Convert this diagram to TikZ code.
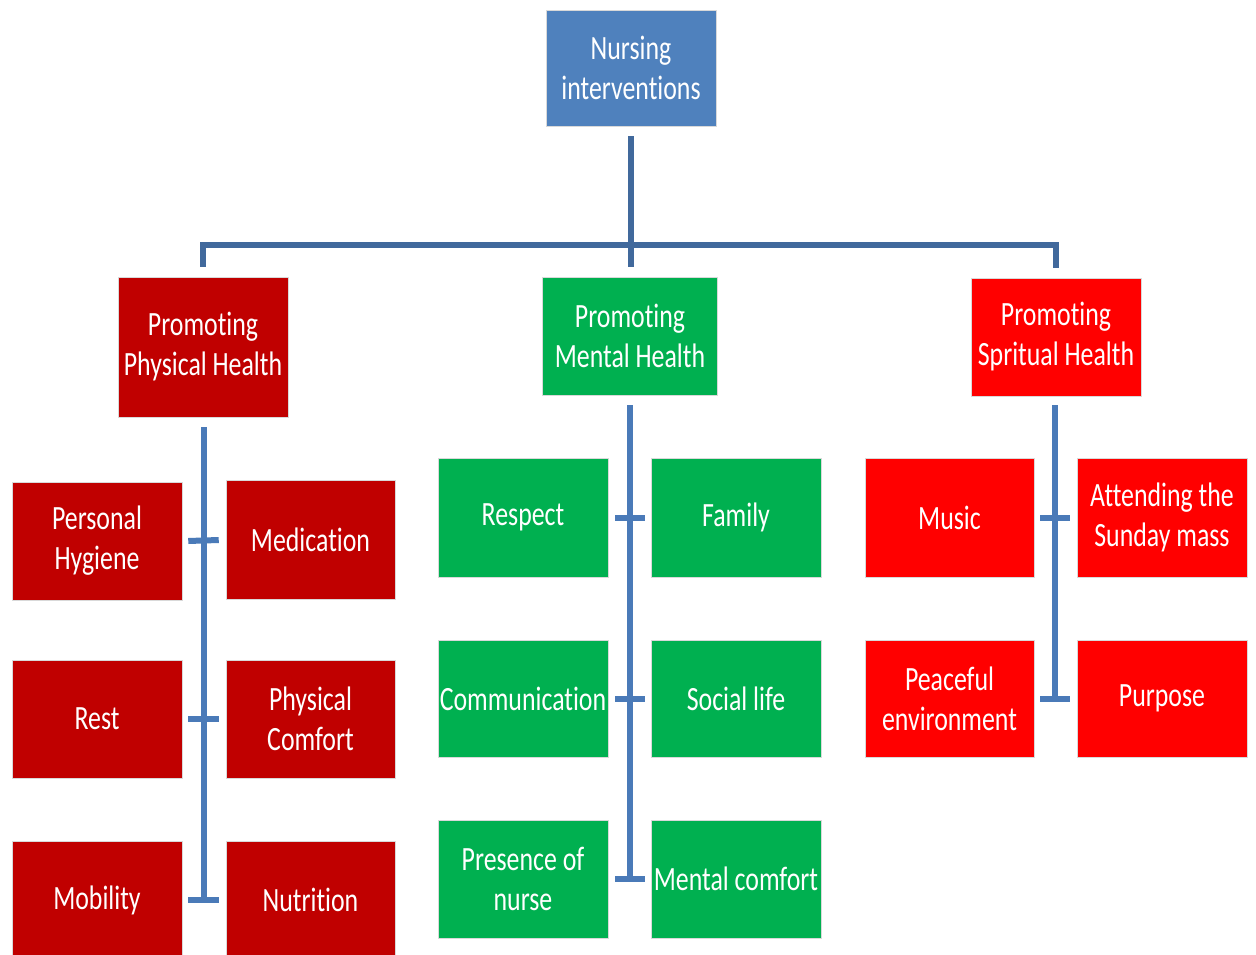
\documentclass[tikz,border=0pt]{standalone}
\usepackage{fontspec}
\setmainfont{Carlito}[FakeStretch=0.76, Ligatures={NoCommon,NoContextual}]
\usetikzlibrary{calc}
\definecolor{rootblue}{HTML}{4F81BD}
\definecolor{darkred}{HTML}{C00000}
\definecolor{brightred}{HTML}{FF0000}
\definecolor{mgreen}{HTML}{00B050}
\definecolor{trunkblue}{HTML}{41699C}
\definecolor{spineblue}{HTML}{4A7AB8}
\begin{document}
\begin{tikzpicture}[x=0.75pt,y=-0.75pt,
  box/.style={rectangle, inner sep=0pt, align=center, text=white,
    draw=white!85!black, line width=0.4pt,
    font=\fontsize{25.5pt}{30pt}\selectfont},
  sz/.style 2 args={minimum width=#1*0.75pt, minimum height=#2*0.75pt},
  trunk/.style={draw=trunkblue, line width=4.5pt, line join=miter},
  spine/.style={draw=spineblue, line width=4.5pt}]
\useasboundingbox (0,0) rectangle (1256,955);
\clip (0,0) rectangle (1256,955);
\fill[white] (0,0) rectangle (1256,955);

% top level and the three branches
\node[box, fill=rootblue, sz={170}{116}] (root) at (631,68) {Nursing\\interventions};
\node[box, fill=darkred, sz={170}{140}] (phys) at (203,347) {Promoting\\Physical Health};
\node[box, fill=mgreen, sz={175}{118}] (mental) at (630,336) {Promoting\\Mental Health};
\node[box, fill=brightred, sz={170}{118}] (spir) at (1056,337) {Promoting\\Spritual Health};

% physical health items
\node[box, fill=darkred, sz={170}{118}] (hyg) at (97,541) {Personal\\Hygiene};
\node[box, fill=darkred, sz={169}{119}] (med) at (310.5,540) {Medication};
\node[box, fill=darkred, sz={170}{118}] (rest) at (97,719) {Rest};
\node[box, fill=darkred, sz={169}{118}] (comf) at (310.5,719) {Physical\\Comfort};
\node[box, fill=darkred, sz={170}{118}] (mob) at (97,900) {Mobility};
\node[box, fill=darkred, sz={169}{118}] (nut) at (310.5,900) {Nutrition};

% mental health items
\node[box, fill=mgreen, sz={170}{119}] (resp) at (523,517.5) {Respect};
\node[box, fill=mgreen, sz={170}{119}] (fam) at (736,517.5) {Family};
\node[box, fill=mgreen, sz={170}{117}] (comm) at (523,698.5) {Communication};
\node[box, fill=mgreen, sz={170}{117}] (soc) at (736,698.5) {Social life};
\node[box, fill=mgreen, sz={170}{118}] (pres) at (523,879) {Presence of\\nurse};
\node[box, fill=mgreen, sz={170}{118}] (mcomf) at (736,879) {Mental comfort};

% spiritual health items
\node[box, fill=brightred, sz={169}{119}] (music) at (949.5,517.5) {Music};
\node[box, fill=brightred, sz={170}{119}] (mass) at (1162,517.5) {Attending the\\Sunday mass};
\node[box, fill=brightred, sz={169}{117}] (peace) at (949.5,698.5) {Peaceful\\environment};
\node[box, fill=brightred, sz={170}{117}] (purp) at (1162,698.5) {Purpose};

% trunk from the root to the three branches
\coordinate (bar) at (631,245);
\draw[trunk] ($(root.south)+(0,10)$) -- ($(root.south |- mental.north)+(0,-10)$);
\draw[trunk] ($(phys.north)+(0,-10)$) |- (bar) -| ($(spir.north)+(0,-10)$);

% physical health spine and ticks
\draw[spine] ($(phys.south)+(1,10)$) -- ($(phys.south |- mob.east)+(1,2)$);
\draw[spine] ($(hyg.east)+(6,0)$) -- ($(med.west)+(-7,0)$);
\draw[spine] ($(rest.east)+(6,0)$) -- ($(comf.west)+(-7,0)$);
\draw[spine] ($(mob.east)+(6,0)$) -- ($(nut.west)+(-7,0)$);

% mental health spine and ticks
\draw[spine] ($(mental.south)+(0,10)$) -- ($(mental.south |- pres.east)+(0,2)$);
\draw[spine] ($(resp.east)+(7,0)$) -- ($(fam.west)+(-6,0)$);
\draw[spine] ($(comm.east)+(7,0)$) -- ($(soc.west)+(-6,0)$);
\draw[spine] ($(pres.east)+(7,0)$) -- ($(mcomf.west)+(-6,0)$);

% spiritual health spine and ticks
\draw[spine] ($(spir.south)+(-1,9)$) -- ($(spir.south |- peace.east)+(-1,2)$);
\draw[spine] ($(music.east)+(6,0)$) -- ($(mass.west)+(-7,0)$);
\draw[spine] ($(peace.east)+(6,0)$) -- ($(purp.west)+(-7,0)$);
\end{tikzpicture}
\end{document}
